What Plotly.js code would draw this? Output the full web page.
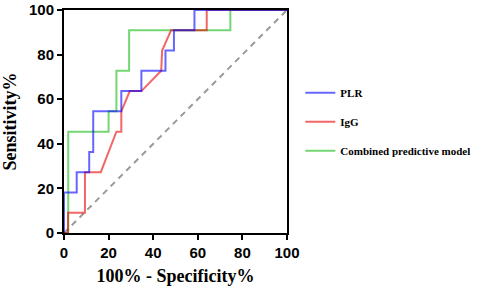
<!DOCTYPE html>
<html>
<head>
<meta charset="utf-8">
<script src="https://cdn.plot.ly/plotly-3.0.1.min.js"></script>
<style>html,body{margin:0;padding:0;background:#fff;}#chart{width:484px;height:292px;}</style>
</head>
<body>
<div id="chart"></div>
<script>
// ROC curves: x = 100% - Specificity%, y = Sensitivity%
const seriesNames = ["PLR", "IgG", "Combined predictive model"];
const plrX = [0, 0, 5.7, 5.7, 11.3, 11.3, 13.1, 13.1, 25.7, 25.7, 34.7, 34.7, 45.5, 45.5, 49.3, 49.3, 58.5, 58.5, 100];
const plrY = [0, 18.18, 18.18, 27.27, 27.27, 36.36, 36.36, 54.55, 54.55, 63.64, 63.64, 72.73, 72.73, 81.82, 81.82, 90.91, 90.91, 100, 100];
const iggX = [0, 1.8, 1.8, 9.4, 9.4, 16.5, 23.5, 25.7, 25.7, 29.5, 34.7, 43.6, 44.0, 48.0, 64.0, 64.0, 100];
const iggY = [0, 0, 9.09, 9.09, 27.27, 27.27, 45.45, 45.45, 54.55, 63.64, 63.64, 72.73, 81.82, 90.91, 90.91, 100, 100];
const combX = [0, 1.9, 1.9, 20.0, 20.0, 23.5, 23.5, 29.2, 29.2, 74.6, 74.6, 100];
const combY = [0, 0, 45.45, 45.45, 54.55, 54.55, 72.73, 72.73, 90.91, 90.91, 100, 100];
const refX = [0, 100];
const refY = [0, 100];
const tickVals = [0, 20, 40, 60, 80, 100];

const serif = "Times New Roman, Liberation Serif, serif";
const sans = "Arial, Liberation Sans, sans-serif";

const traces = [
  {x: refX, y: refY, mode: "lines", showlegend: false, hoverinfo: "skip",
   line: {color: "#9a9a9a", width: 2, dash: "6px,5px"}, cliponaxis: false},
  {x: combX, y: combY, mode: "lines", name: seriesNames[2], legendrank: 3, legendgroup: "c",
   line: {color: "rgba(0,180,0,0.55)", width: 2}, cliponaxis: false},
  {x: iggX, y: iggY, mode: "lines", name: seriesNames[1], legendrank: 2, legendgroup: "b",
   line: {color: "rgba(235,0,0,0.6)", width: 2}, cliponaxis: false},
  {x: plrX, y: plrY, mode: "lines", name: seriesNames[0], legendrank: 1, legendgroup: "a",
   line: {color: "rgba(0,0,255,0.6)", width: 2}, cliponaxis: false}
];

const axisCommon = {
  range: [0, 100], tickvals: tickVals, ticktext: tickVals.map(String),
  showgrid: false, zeroline: false, showline: true, linecolor: "#000", linewidth: 2,
  mirror: true, ticks: "outside", ticklen: 5, tickwidth: 2, tickcolor: "#000",
  tickfont: {family: sans, size: 15, color: "#000", weight: "bold"},
  layer: "below traces", fixedrange: true
};

const layout = {
  width: 484, height: 292,
  margin: {l: 64, r: 196, t: 10, b: 59},
  paper_bgcolor: "#fff", plot_bgcolor: "#fff",
  xaxis: Object.assign({}, axisCommon, {
    title: {text: "100% - Specificity%", font: {family: serif, size: 18, color: "#000", weight: "bold"}, standoff: 9}
  }),
  yaxis: Object.assign({}, axisCommon, {
    title: {text: "Sensitivity%", font: {family: serif, size: 18, color: "#000", weight: "bold"}, standoff: 8}
  }),
  showlegend: true,
  legend: {x: 1.055, xanchor: "left", y: 0.694, yanchor: "top", tracegroupgap: 10,
    traceorder: "grouped", bgcolor: "rgba(0,0,0,0)",
    font: {family: serif, size: 11, color: "#000", weight: "bold"}}
};

Plotly.newPlot("chart", traces, layout, {displayModeBar: false, staticPlot: true});
</script>
</body>
</html>
